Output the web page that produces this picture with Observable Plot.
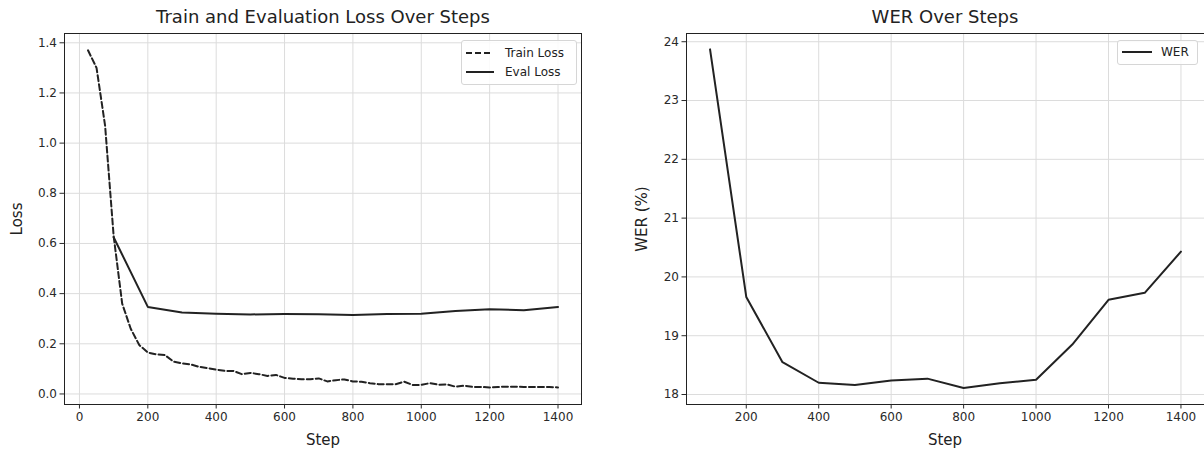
<!DOCTYPE html>
<html>
<head>
<meta charset="utf-8">
<script src="https://cdn.jsdelivr.net/npm/d3@7"></script>
<script src="https://cdn.jsdelivr.net/npm/@observablehq/plot@0.6"></script>
<style>
  html, body { margin: 0; padding: 0; background: #fff; }
  #wrap { position: relative; width: 1204px; height: 450px; overflow: hidden; background: #fff; font-family: "DejaVu Sans", sans-serif; color: #222; }
  .chart { position: absolute; top: 0; }
  .title { position: absolute; top: 6px; font-size: 18px; white-space: nowrap; transform: translateX(-50%); color: #222; }
  .xlabel { position: absolute; font-size: 15px; white-space: nowrap; transform: translate(-50%, -50%); color: #222; }
  .ylabel { position: absolute; font-size: 15px; white-space: nowrap; transform: translate(-50%, -50%) rotate(-90deg); color: #222; }
  .legend { position: absolute; border: 1px solid #d6d6d6; border-radius: 3px; background: rgba(255,255,255,0.85); font-size: 12px; color: #222; box-sizing: border-box; }
  .legend .row { position: absolute; display: flex; align-items: center; white-space: nowrap; }
</style>
</head>
<body>
<div id="wrap">
  <div id="left" class="chart" style="left:0px"></div>
  <div id="right" class="chart" style="left:600px"></div>
  <div class="title" style="left:323px">Train and Evaluation Loss Over Steps</div>
  <div class="title" style="left:945px">WER Over Steps</div>
  <div class="xlabel" style="left:323px; top:440px">Step</div>
  <div class="xlabel" style="left:945px; top:440px">Step</div>
  <div class="ylabel" style="left:17px; top:219px">Loss</div>
  <div class="ylabel" style="left:642px; top:219px">WER (%)</div>
  <div class="legend" style="left:461px; top:40px; width:116px; height:45px">
    <div class="row" style="left:4px; top:4px; height:16px">
      <svg width="28" height="16"><line x1="0" y1="8" x2="27" y2="8" stroke="#222" stroke-width="2" stroke-dasharray="6,3"/></svg>
      <span style="margin-left:11px">Train Loss</span>
    </div>
    <div class="row" style="left:4px; top:23px; height:16px">
      <svg width="28" height="16"><line x1="0" y1="8" x2="28" y2="8" stroke="#222" stroke-width="2"/></svg>
      <span style="margin-left:11px">Eval Loss</span>
    </div>
  </div>
  <div class="legend" style="left:1117px; top:40px; width:81px; height:25px">
    <div class="row" style="left:4px; top:3px; height:16px">
      <svg width="30" height="16"><line x1="0" y1="8" x2="30" y2="8" stroke="#222" stroke-width="2"/></svg>
      <span style="margin-left:9px">WER</span>
    </div>
  </div>
</div>
<script>
// ---- Data ----
const trainSteps = [25, 50, 75, 100, 125, 150, 175, 200, 225, 250, 275, 300, 325, 350, 375, 400,
  425, 450, 475, 500, 525, 550, 575, 600, 625, 650, 675, 700, 725, 750, 775, 800,
  825, 850, 875, 900, 925, 950, 975, 1000, 1025, 1050, 1075, 1100, 1125, 1150, 1175, 1200,
  1225, 1250, 1275, 1300, 1325, 1350, 1375, 1400];
const trainLoss = [1.37, 1.30, 1.07, 0.63, 0.36, 0.26, 0.195, 0.165, 0.158, 0.155, 0.129, 0.122, 0.118, 0.108, 0.103, 0.097,
  0.092, 0.092, 0.079, 0.084, 0.079, 0.072, 0.076, 0.064, 0.061, 0.059, 0.059, 0.062, 0.050, 0.055, 0.058, 0.050,
  0.049, 0.043, 0.039, 0.039, 0.039, 0.049, 0.036, 0.036, 0.043, 0.037, 0.038, 0.029, 0.033, 0.028, 0.028, 0.026,
  0.028, 0.029, 0.029, 0.028, 0.028, 0.028, 0.028, 0.026];
const evalSteps = [100, 200, 300, 400, 500, 600, 700, 800, 900, 1000, 1100, 1200, 1300, 1400];
const evalLoss = [0.625, 0.347, 0.325, 0.320, 0.317, 0.319, 0.318, 0.315, 0.319, 0.320, 0.331, 0.338, 0.334, 0.347];
const werValues = [23.87, 19.66, 18.55, 18.20, 18.16, 18.24, 18.27, 18.11, 18.19, 18.25, 18.85, 19.61, 19.73, 20.43];
const xTicksLoss = [0, 200, 400, 600, 800, 1000, 1200, 1400];
const yTicksLoss = [0.0, 0.2, 0.4, 0.6, 0.8, 1.0, 1.2, 1.4];
const xTicksWer = [200, 400, 600, 800, 1000, 1200, 1400];
const yTicksWer = [18, 19, 20, 21, 22, 23, 24];

const train = trainSteps.map((s, i) => ({step: s, value: trainLoss[i]}));
const evals = evalSteps.map((s, i) => ({step: s, value: evalLoss[i]}));
const wer = evalSteps.map((s, i) => ({step: s, value: werValues[i]}));

const INK = "#222";
const TICK = "#2a2a2a";
const GRID = "#dcdcdc";
const common = {
  style: {fontFamily: "DejaVu Sans, sans-serif", fontSize: "12px", color: INK, background: "transparent", overflow: "visible"}
};
const axisOpts = {label: null, tickSize: 4.5, tickPadding: 3, color: TICK, fontSize: 12};

const left = Plot.plot({
  ...common,
  width: 600, height: 450,
  marginLeft: 64, marginRight: 19, marginTop: 33, marginBottom: 46,
  x: {domain: [-43.75, 1468.75]},
  y: {domain: [-0.042, 1.437]},
  marks: [
    Plot.gridX(xTicksLoss, {stroke: GRID, strokeOpacity: 1, strokeWidth: 1}),
    Plot.gridY(yTicksLoss, {stroke: GRID, strokeOpacity: 1, strokeWidth: 1}),
    Plot.line(train, {x: "step", y: "value", stroke: INK, strokeWidth: 2, strokeDasharray: "6,3"}),
    Plot.line(evals, {x: "step", y: "value", stroke: INK, strokeWidth: 2}),
    Plot.frame({stroke: INK, strokeWidth: 1}),
    Plot.axisX(xTicksLoss, {...axisOpts, tickFormat: d3.format("d")}),
    Plot.axisY(yTicksLoss, {...axisOpts, tickFormat: d3.format(".1f")})
  ]
});
document.getElementById("left").appendChild(left);

const right = Plot.plot({
  ...common,
  width: 604, height: 450,
  marginLeft: 86, marginRight: 0, marginTop: 33, marginBottom: 46,
  x: {domain: [35, 1465]},
  y: {domain: [17.83, 24.14]},
  marks: [
    Plot.gridX(xTicksWer, {stroke: GRID, strokeOpacity: 1, strokeWidth: 1}),
    Plot.gridY(yTicksWer, {stroke: GRID, strokeOpacity: 1, strokeWidth: 1}),
    Plot.line(wer, {x: "step", y: "value", stroke: INK, strokeWidth: 2}),
    Plot.frame({stroke: INK, strokeWidth: 1}),
    Plot.axisX(xTicksWer, {...axisOpts, tickFormat: d3.format("d")}),
    Plot.axisY(yTicksWer, {...axisOpts, tickFormat: d3.format("d")})
  ]
});
document.getElementById("right").appendChild(right);
</script>
</body>
</html>
